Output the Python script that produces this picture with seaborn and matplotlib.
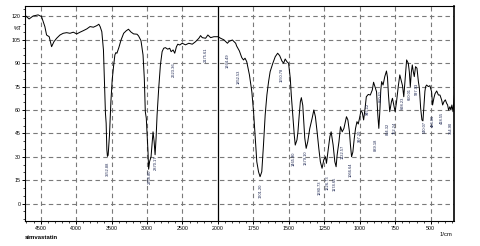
import numpy as np
import matplotlib
matplotlib.use("Agg")
import matplotlib.pyplot as plt
import seaborn as sns
from matplotlib.ticker import FixedLocator, NullFormatter

# ---- data ----
wavenumber = [4709, 4662, 4605, 4535, 4487, 4440, 4416, 4379, 4345, 4312, 4274, 4227, 4181, 4133,
              4086, 4039, 3991, 3944, 3897, 3849, 3803, 3756, 3708, 3679, 3661, 3637, 3614, 3600,
              3586, 3576, 3566, 3558, 3548, 3529, 3509, 3491, 3472, 3453, 3439, 3424, 3397, 3366,
              3329, 3293, 3261, 3226, 3189, 3141, 3119, 3085, 3056, 3038, 3024, 3010, 3000, 2986,
              2977, 2963, 2943, 2929, 2915, 2900, 2886, 2872, 2858, 2835, 2811, 2787, 2765, 2741,
              2708, 2680, 2660, 2632, 2609, 2585, 2566, 2538, 2504, 2457, 2411, 2362, 2316, 2269,
              2245, 2221, 2174, 2142, 2103, 2057, 2000, 1981, 1958, 1933, 1922, 1898, 1875, 1868,
              1849, 1832, 1820, 1809, 1797, 1778, 1761, 1749, 1738, 1726, 1714, 1703, 1691, 1679,
              1667, 1655, 1643, 1632, 1613, 1596, 1579, 1565, 1549, 1537, 1526, 1514, 1502, 1490,
              1483, 1471, 1462, 1455, 1443, 1436, 1427, 1419, 1412, 1402, 1395, 1388, 1378, 1367,
              1353, 1336, 1324, 1313, 1301, 1289, 1278, 1266, 1254, 1242, 1235, 1225, 1211, 1202,
              1188, 1176, 1167, 1160, 1147, 1136, 1124, 1112, 1103, 1094, 1084, 1073, 1066, 1058,
              1049, 1039, 1030, 1020, 1011, 1002, 992, 983, 973, 963, 954, 940, 926, 912, 903, 893,
              882, 873, 866, 859, 852, 846, 836, 824, 812, 805, 798, 789, 777, 770, 760, 751, 741,
              729, 718, 708, 699, 690, 680, 670, 658, 651, 644, 637, 630, 623, 616, 607, 597, 587,
              580, 571, 562, 555, 548, 541, 536, 529, 517, 506, 494, 487, 478, 470, 458, 446, 435,
              423, 416, 407, 397, 388, 381, 374, 365, 358, 351, 343, 337, 331]
transmittance = [120.3, 118.4, 120.3, 121.0, 119.9, 113.5, 108.1, 107.0, 100.6, 103.8, 106.0, 108.1,
                 109.2, 109.6, 109.2, 109.9, 108.8, 109.9, 110.9, 112.0, 113.5, 113.1, 114.1, 115.0,
                 113.5, 110.2, 98.5, 77.3, 58.0, 51.6, 34.5, 30.3, 31.0, 44.0, 65.3, 79.2, 87.8,
                 95.3, 96.8, 96.4, 100.0, 104.9, 109.2, 110.8, 111.8, 110.0, 108.8, 108.6, 107.5,
                 104.5, 95.3, 80.3, 58.9, 54.7, 46.0, 33.2, 22.0, 27.0, 30.0, 38.0, 46.0, 40.0, 31.3,
                 42.0, 56.8, 73.9, 88.9, 97.4, 99.6, 100.0, 99.0, 99.6, 97.4, 98.5, 96.4, 100.6,
                 102.2, 101.7, 102.8, 101.8, 102.8, 102.2, 103.8, 106.0, 107.7, 106.4, 106.0, 108.1,
                 106.4, 107.0, 107.0, 106.0, 105.0, 102.8, 104.0, 104.9, 102.8, 101.0, 97.9, 93.6,
                 92.1, 93.2, 91.0, 82.5, 71.7, 58.9, 44.0, 26.8, 20.4, 17.2, 20.4, 37.5, 56.8, 69.6,
                 78.2, 84.6, 90.0, 94.2, 96.4, 94.9, 91.4, 90.0, 92.7, 91.0, 90.0, 80.3, 69.6, 54.7,
                 44.0, 37.5, 40.8, 46.0, 56.8, 65.3, 67.9, 63.0, 52.5, 42.0, 35.4, 39.6, 48.0, 54.7,
                 60.0, 55.7, 46.0, 35.4, 26.8, 22.6, 28.0, 30.0, 25.8, 33.0, 42.9, 46.0, 37.5, 26.8,
                 23.6, 31.0, 39.6, 49.3, 46.0, 48.2, 52.0, 55.7, 53.6, 46.0, 37.5, 30.0, 33.0, 41.8,
                 48.2, 52.5, 51.0, 54.7, 59.4, 58.5, 53.6, 61.0, 68.5, 70.0, 69.6, 72.8, 77.8, 75.0,
                 71.7, 56.8, 48.2, 58.9, 72.8, 78.2, 76.0, 81.4, 85.0, 81.0, 69.6, 58.9, 65.3, 67.5,
                 63.0, 58.9, 65.3, 75.0, 82.5, 79.0, 75.6, 68.5, 80.3, 92.1, 89.9, 84.6, 75.0, 84.0,
                 88.9, 84.6, 81.4, 87.8, 86.8, 78.2, 74.0, 61.1, 53.6, 53.0, 62.0, 72.0, 75.0, 76.0,
                 75.0, 75.6, 71.7, 63.2, 67.5, 70.4, 72.2, 69.6, 69.6, 66.4, 63.2, 65.3, 66.5, 64.3,
                 63.2, 59.9, 62.1, 60.0, 63.2, 58.9, 65.3, 71.3]

peak_labels = ["3552.88", "2958.80", "2870.17", "2623.36", "2175.61", "1934.49", "1852.53",
               "1701.20", "1550.78", "1465.90", "1379.10", "1280.73", "1226.73", "1174.65",
               "1122.57", "1066.64", "997.20", "945.12", "889.18", "850.61", "804.32", "752.24",
               "698.23", "650.01", "597.93", "540.07", "486.06", "418.55", "354.90"]
peak_label_top = [26.6, 21.5, 31.1, 90.8, 99.8, 96.6, 85.7, 12.5, 87.0, 33.0, 34.3, 15.0, 18.3,
                  17.0, 37.5, 26.0, 47.2, 64.5, 41.4, 72.8, 51.6, 52.3, 68.3, 74.1, 77.3, 52.9,
                  56.8, 58.7, 52.3]

upper_ticks = [4500, 4000, 3500, 3000, 2500]
lower_ticks = [1750, 1500, 1250, 1000, 750, 500]
y_ticks = [0, 15, 30, 45, 60, 75, 90, 105, 120]
sample_name = "simvastatin"
x_unit = "1/cm"
y_unit = "%T"

# ---- style ----
sns.set_theme(style="white")
plt.rcParams["font.family"] = ["Liberation Sans", "DejaVu Sans"]

fig = plt.figure(figsize=(4.8, 2.46), dpi=100)
ax = fig.add_axes([25 / 480, 1 - 221.3 / 246, (454 - 25) / 480, (221.3 - 6) / 246])

df = {"wn": np.array(wavenumber, float), "T": np.array(transmittance, float)}
sns.lineplot(x=df["wn"], y=df["T"], sort=False, estimator=None, color="black",
             linewidth=0.72, ax=ax)


def fwd(x):
    x = np.asarray(x, float)
    return np.where(x > 2000, 2000 + (x - 2000) / 2.0, x)


def inv(u):
    u = np.asarray(u, float)
    return np.where(u > 2000, 2000 + (u - 2000) * 2.0, u)


ax.set_xscale("function", functions=(fwd, inv))
ax.set_xlim(4720, 336)
ax.set_ylim(-11.4, 126.7)

# grid
for xv in upper_ticks + lower_ticks:
    ax.axvline(xv, color="#7a7a7a", lw=0.8, ls=(0, (4, 3)), zorder=0)
ax.axvline(2000, color="black", lw=0.9, zorder=1)
for yv in y_ticks:
    ax.axhline(yv, color="#7a7a7a", lw=0.8, ls=(0, (4, 3)), zorder=0)

# ticks
major_x = upper_ticks + [2000] + lower_ticks
ax.xaxis.set_major_locator(FixedLocator(major_x))
minor_x = list(range(2100, 4800, 100)) + list(range(350, 2000, 50))
ax.xaxis.set_minor_locator(FixedLocator(minor_x))
ax.xaxis.set_minor_formatter(NullFormatter())
ax.set_xticklabels([str(v) for v in major_x])
ax.yaxis.set_major_locator(FixedLocator(y_ticks))
ax.yaxis.set_minor_locator(FixedLocator(list(range(-10, 126, 5))))
ax.yaxis.set_minor_formatter(NullFormatter())
ax.set_yticklabels([str(v) for v in y_ticks])

ax.tick_params(axis="both", which="major", direction="out", length=2.4, width=0.7,
               labelsize=3.8, pad=0.8, colors="black", bottom=True, left=True)
ax.tick_params(axis="both", which="minor", direction="out", length=1.4, width=0.6,
               bottom=True, left=True)
ax.tick_params(axis="x", which="major", pad=1.0)

for s in ax.spines.values():
    s.set_color("black")
    s.set_linewidth(0.8)
ax.spines["right"].set_linewidth(1.2)

ax.set_xlabel("")
ax.set_ylabel("")

# %T label between 105 and 120
ax.text(-0.008, 112.5, y_unit, transform=ax.get_yaxis_transform(), ha="right",
        va="center", fontsize=3.8, color="black")

# peak labels
for lab, top in zip(peak_labels, peak_label_top):
    ax.text(float(lab), top, lab, rotation=90, ha="center", va="top", fontsize=2.9,
            color="#1a2450", clip_on=True)

fig.text(25 / 480, 1 - 237.5 / 246, sample_name, ha="left", va="center", fontsize=4.3,
         fontweight="bold", color="black")
fig.text(452 / 480, 1 - 234 / 246, x_unit, ha="right", va="center", fontsize=4.2,
         color="black")

fig.savefig("out.png", dpi=100)
